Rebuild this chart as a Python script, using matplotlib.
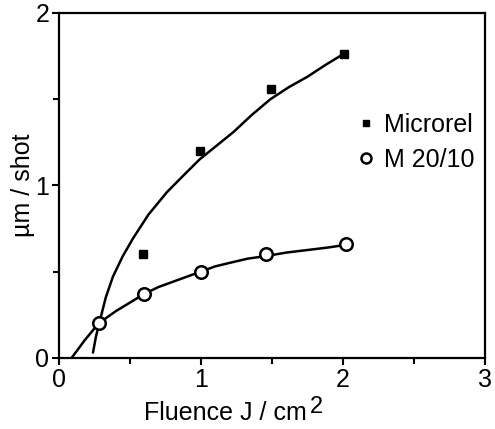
import numpy as np
import matplotlib.pyplot as plt

plt.rcParams['font.family'] = ['Liberation Sans', 'DejaVu Sans']

# measured points
fluence_microrel = [0.28, 0.59, 0.99, 1.49, 2.01]
rate_microrel = [0.20, 0.60, 1.20, 1.56, 1.76]
fluence_m2010 = [0.28, 0.60, 1.00, 1.46, 2.02]
rate_m2010 = [0.20, 0.37, 0.50, 0.60, 0.66]

# fitted curves as drawn in the figure
curve_microrel_x = [0.24, 0.26, 0.29, 0.33, 0.38, 0.45, 0.52, 0.63, 0.76, 0.88, 0.99,
                    1.11, 1.23, 1.36, 1.49, 1.62, 1.75, 1.88, 2.00]
curve_microrel_y = [0.03, 0.12, 0.22, 0.35, 0.47, 0.59, 0.69, 0.83, 0.96, 1.06, 1.15,
                    1.23, 1.31, 1.41, 1.50, 1.57, 1.63, 1.70, 1.76]
curve_m2010_x = [0.09, 0.18, 0.28, 0.40, 0.50, 0.60, 0.70, 0.80, 0.90, 1.00, 1.10,
                 1.20, 1.33, 1.46, 1.60, 1.75, 1.90, 2.02]
curve_m2010_y = [0.00, 0.10, 0.20, 0.27, 0.32, 0.37, 0.41, 0.44, 0.47, 0.50, 0.53,
                 0.55, 0.575, 0.59, 0.61, 0.625, 0.64, 0.655]

fig = plt.figure(figsize=(4.95, 4.29), dpi=100)
ax = fig.add_axes([0.119, 0.166, 0.861, 0.804])

ax.plot(curve_microrel_x, curve_microrel_y, color='black', lw=1.8, solid_capstyle='round')
ax.plot(curve_m2010_x, curve_m2010_y, color='black', lw=1.8, solid_capstyle='round')

ax.plot(fluence_microrel, rate_microrel, 's', color='black', ms=6, label='Microrel')
ax.plot(fluence_m2010, rate_m2010, 'o', mfc='white', mec='black', mew=1.8, ms=9,
        label='M 20/10')

ax.set_xlim(0, 3)
ax.set_ylim(0, 2)
ax.set_xticks([0, 1, 2, 3])
ax.set_yticks([0, 1, 2])
ax.set_xticks([0.5, 1.5, 2.5], minor=True)
ax.set_yticks([0.5, 1.5], minor=True)
ax.tick_params(which='both', direction='out', width=1.5, labelsize=18, pad=2)
ax.tick_params(which='major', length=5)
ax.tick_params(which='minor', length=4)
for s in ax.spines.values():
    s.set_linewidth(1.6)

ax.set_ylabel('µm / shot', fontsize=18)
ax.yaxis.set_label_coords(-0.055, 0.5)
ax.set_xlabel('Fluence J / cm', fontsize=18)
ax.xaxis.set_label_coords(0.39, -0.125)
ax.text(0.605, -0.142, '2', transform=ax.transAxes, fontsize=17, ha='center', va='center')

ax.legend(loc='upper left', bbox_to_anchor=(0.704, 0.71), frameon=False, fontsize=18,
          handlelength=0.6, handletextpad=0.4, labelspacing=0.45, borderaxespad=0,
          borderpad=0, markerscale=0.8)

fig.savefig('out.png', dpi=100)
